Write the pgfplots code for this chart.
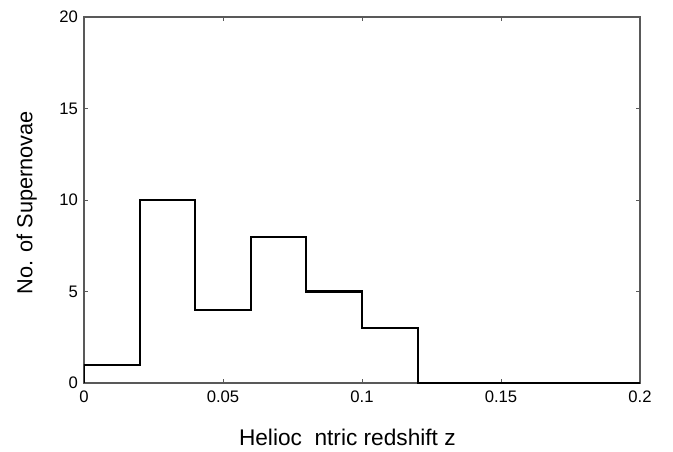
\documentclass[border=0pt]{standalone}
\usepackage{fontspec}
\setmainfont{Liberation Sans}
\usepackage{pgfplots}
\pgfplotsset{compat=1.18}
\begin{document}
\begin{tikzpicture}
\begin{axis}[
  at={(0,0)}, anchor=south west,
  scale only axis, width=417pt, height=274.5pt,
  xmin=0, xmax=0.2, ymin=0, ymax=20,
  xtick={0,0.05,0.1,0.15,0.2},
  xticklabels={0,0.05,0.1,0.15,0.2},
  ytick={0,5,10,15,20},
  tick align=inside,
  major tick length=3pt,
  tick style={gray!70!black, line width=0.6pt},
  axis line style={gray!70!black, line width=0.9pt},
  /pgf/number format/assume math mode=true,
  ticklabel style={font=\fontsize{12.5}{14}\selectfont},
  xticklabel style={yshift=-2pt},
  yticklabel style={xshift=-1pt},
  xlabel={Helioc\ \ ntric redshift z},
  ylabel={No. of Supernovae},
  xlabel style={font=\fontsize{17}{19}\selectfont, at={(axis description cs:0.5,0)}, anchor=center, yshift=-41pt, xshift=-11pt},
  ylabel style={font=\fontsize{16.3}{18}\selectfont, at={(axis description cs:0,0.5)}, anchor=center, rotate=0, yshift=43pt, xshift=-2pt},
]
\addplot[const plot, black, line width=1.6pt] coordinates {
  (0,0) (0,1) (0.02,10) (0.04,4) (0.06,8) (0.08,5) (0.1,3) (0.12,0) (0.2,0)
};
\end{axis}
\path[use as bounding box] (-63pt,-51pt) rectangle (441.75pt,287.25pt);
\end{tikzpicture}
\end{document}
